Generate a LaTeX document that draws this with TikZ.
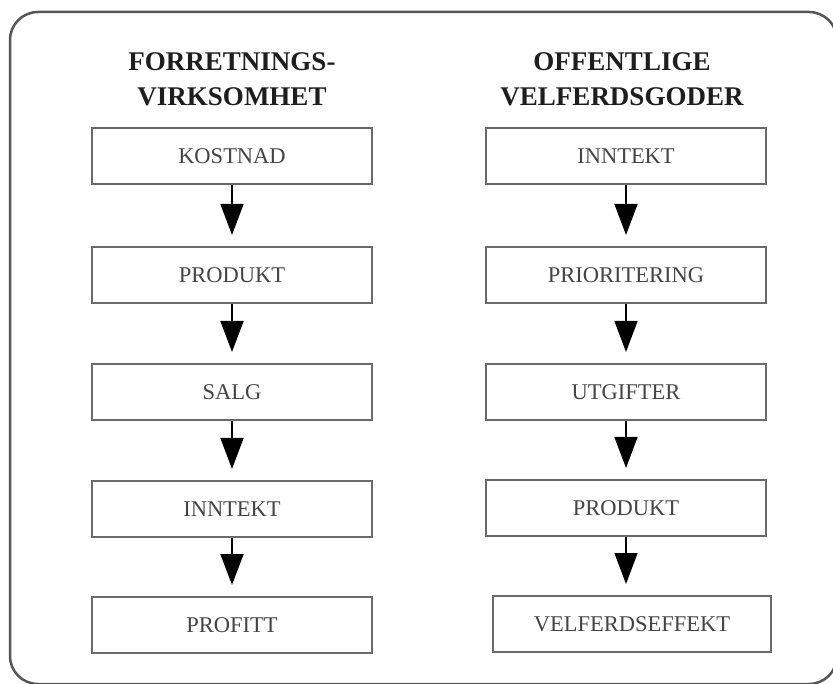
\documentclass[tikz,border=0pt]{standalone}
\usepackage{fontspec}
\setmainfont{Liberation Serif}
\usetikzlibrary{arrows.meta}
\definecolor{framec}{HTML}{555555}
\definecolor{boxc}{HTML}{6A6A6A}
\definecolor{txtc}{HTML}{444444}
\definecolor{headc}{HTML}{1E1E1E}
\tikzset{
  stepbox/.style={draw=boxc, line width=2pt, minimum width=280pt, minimum height=56pt,
    inner sep=0pt, text=txtc, font=\fontsize{22.5}{26}\selectfont},
  headtext/.style={align=center, text=headc, font=\fontsize{27}{35}\selectfont\bfseries},
  flow/.style={line width=1.5pt, draw=black, -{Triangle[width=23pt,length=31pt]}, shorten >=11pt}
}
\begin{document}
\begin{tikzpicture}[x=1pt,y=-1pt]
\useasboundingbox (0,0) rectangle (833,684);
\draw[framec, line width=2.5pt, rounded corners=28pt] (10,12) rectangle (837,684);
\node[headtext] (h1) at (232,79) {FORRETNINGS-\\VIRKSOMHET};
\node[headtext] (h2) at (622,79) {OFFENTLIGE\\VELFERDSGODER};
% left column
\node[stepbox] (l1) at (232,156) {KOSTNAD};
\node[stepbox] (l2) at (232,275) {PRODUKT};
\node[stepbox] (l3) at (232,392) {SALG};
\node[stepbox] (l4) at (232,509) {INNTEKT};
\node[stepbox] (l5) at (232,625) {PROFITT};
% right column
\node[stepbox] (r1) at (626,156) {INNTEKT};
\node[stepbox] (r2) at (626,275) {PRIORITERING};
\node[stepbox] (r3) at (626,392) {UTGIFTER};
\node[stepbox] (r4) at (626,508) {PRODUKT};
\node[stepbox, minimum width=278pt] (r5) at (632,624) {VELFERDSEFFEKT};
\foreach \a/\b in {l1/l2,l2/l3,l3/l4,l4/l5,r1/r2,r2/r3,r3/r4} {
  \draw[flow] (\a.south) -- (\b.north);
}
\draw[flow] (r4.south) -- (r4.south |- r5.north);
\end{tikzpicture}
\end{document}
